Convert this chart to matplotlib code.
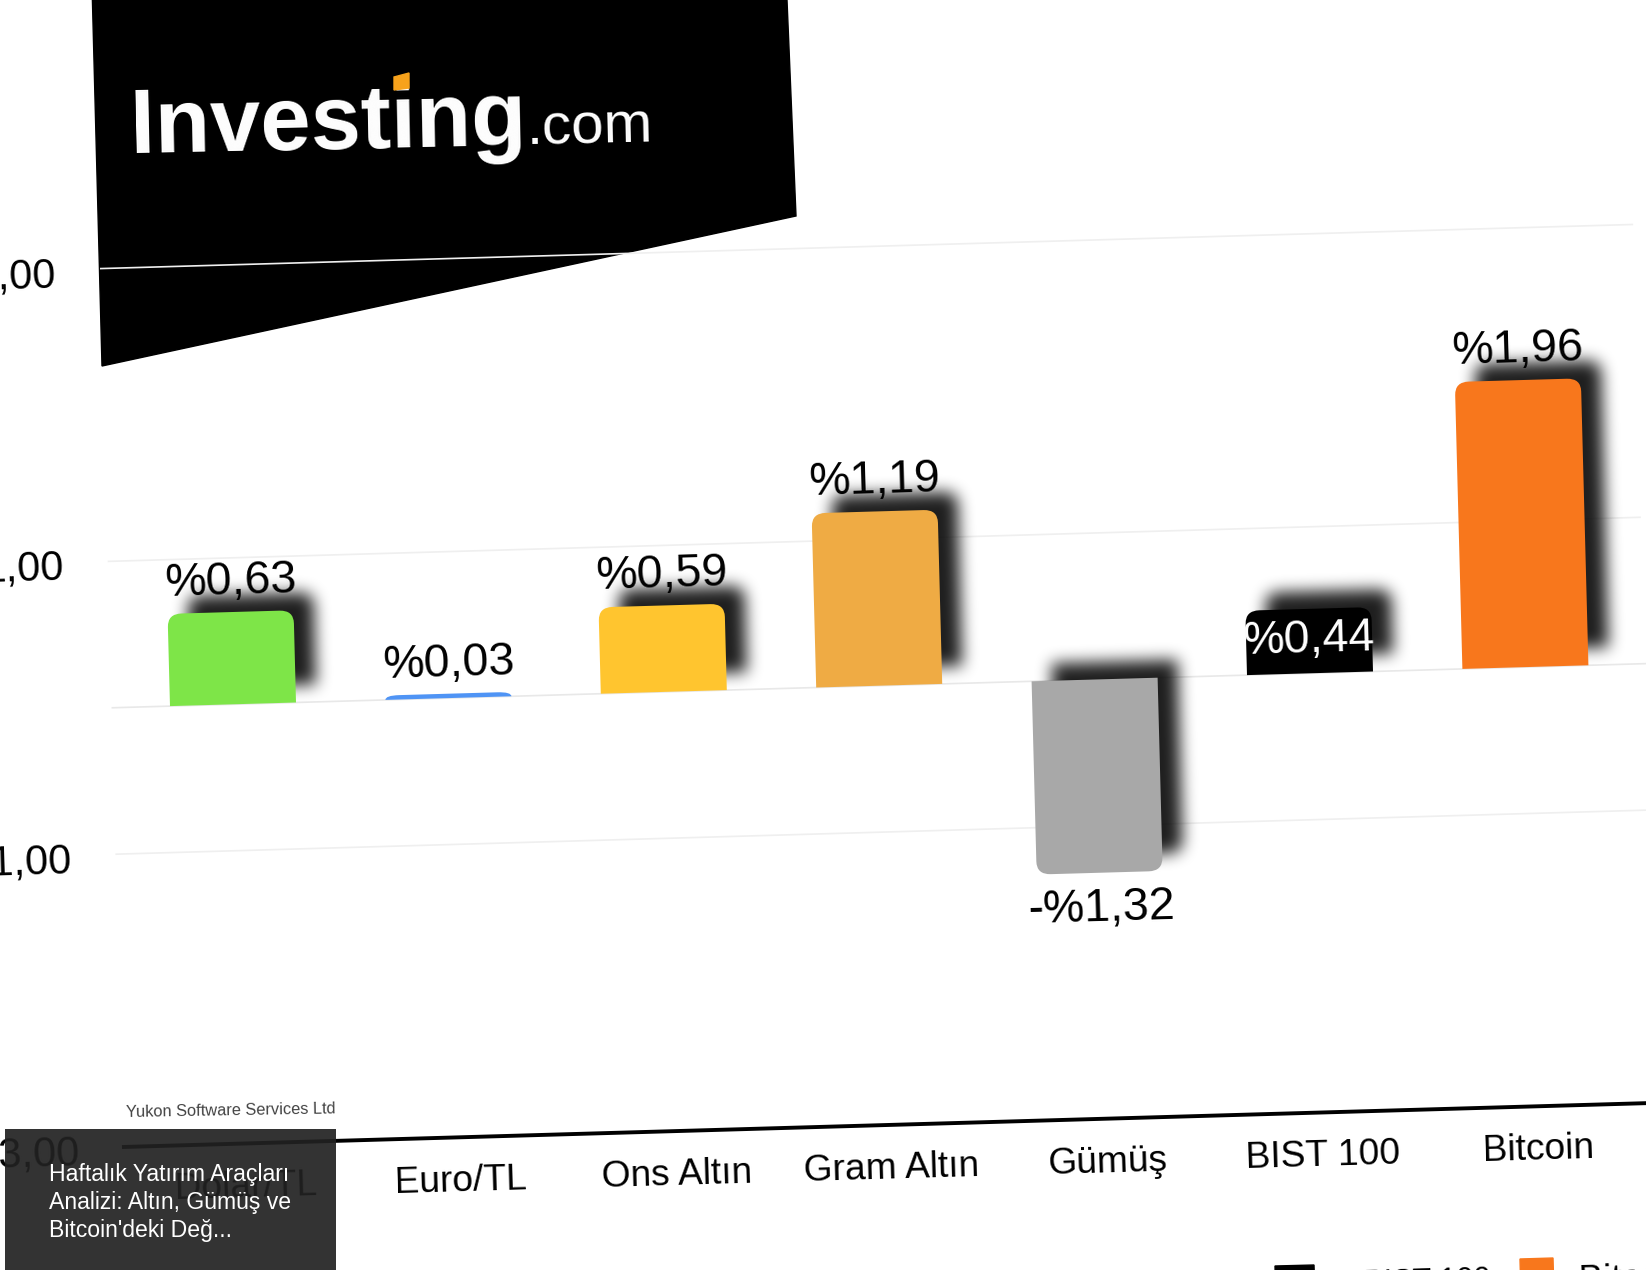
import matplotlib
matplotlib.use('Agg')
import numpy as np
import matplotlib.pyplot as plt
from matplotlib.patches import PathPatch, Polygon, Rectangle
from matplotlib.path import Path
from matplotlib.transforms import Affine2D

plt.rcParams['font.family'] = ['Liberation Sans', 'DejaVu Sans']

# Datos del grafico
categories = ['Dolar/TL', 'Euro/TL', 'Ons Altın', 'Gram Altın', 'Gümüş', 'BIST 100', 'Bitcoin']
values = [0.63, 0.03, 0.59, 1.19, -1.32, 0.44, 1.96]
bar_colors = ['#7ee548', '#4f94f5', '#ffc52f', '#efab44', '#a8a8a8', '#000000', '#f8771c']
y_ticks = [3, 1, -1, -3]
y_tick_labels = ['3,00', '1,00', '-1,00', '-3,00']
legend_names = ['BIST 100', 'Bitcoin']
overlay_lines = ['Haftalık Yatırım Araçları', 'Analizi: Altın, Gümüş ve', "Bitcoin'deki Değ..."]

fig = plt.figure(figsize=(16.46, 12.7), dpi=100)
ax = fig.add_axes([0, 0, 1, 1])
ax.set_xlim(0, 1646)
ax.set_ylim(1270, 0)
ax.axis('off')

# la foto esta torcida: (categoria, valor) -> pixeles
tilt = Affine2D.from_values(215.4, -6.2, -3.85, -146.4, 233, 704.3)
chart = tilt + ax.transData
shadow = tilt + Affine2D().translate(20, -18) + ax.transData
angle = 1.65


def bar_path(i, v, width=0.585, rx=0.065, ry=0.09):
    left, right = i - width / 2, i + width / 2
    ry = min(ry, abs(v))
    s = 1 if v > 0 else -1
    verts = [(left, 0), (left, v - s * ry), (left, v), (left + rx, v),
             (right - rx, v), (right, v), (right, v - s * ry), (right, 0), (left, 0)]
    codes = [Path.MOVETO, Path.LINETO, Path.CURVE3, Path.CURVE3,
             Path.LINETO, Path.CURVE3, Path.CURVE3, Path.LINETO, Path.CLOSEPOLY]
    return Path(verts, codes)


def blur_filter(img, dpi):
    # desenfoque de la sombra, tres pasadas de caja sobre el alfa
    pad = 40
    a = np.pad(img[:, :, 3], pad)
    k = np.ones(15) / 15
    for _ in range(3):
        a = np.apply_along_axis(lambda r: np.convolve(r, k, mode='same'), 0, a)
        a = np.apply_along_axis(lambda r: np.convolve(r, k, mode='same'), 1, a)
    out = np.zeros(a.shape + (4,))
    out[:, :, 3] = a * 0.88
    return out, -pad, -pad


# Logo
ax.add_patch(Polygon([(92.4, 0), (787, 0), (796, 216), (102, 366)], color='black', zorder=1))
ax.text(131, 153, 'Investing', color='white', fontsize=65, fontweight='bold', rotation=1.2,
        rotation_mode='anchor', ha='left', va='baseline', zorder=5)
ax.text(527, 144.5, '.com', color='white', fontsize=42, rotation=1.2,
        rotation_mode='anchor', ha='left', va='baseline', zorder=5)
ax.add_patch(Polygon([(394, 77), (409, 73), (409, 88), (394, 90)], color='#f7a21b', zorder=6))

# Grilla y eje
for t, lab in zip(y_ticks, y_tick_labels):
    if t == -3:
        ax.plot([-0.56, 7], [t, t], color='black', lw=2.8, transform=chart, zorder=2)
    else:
        ax.plot([-0.56, 6.55], [t, t], color='#efefef', lw=1.2, transform=chart, zorder=2)
    ax.text(-0.768, t - 0.04, lab, fontsize=30, color='black', ha='right', va='center',
            rotation=angle, rotation_mode='anchor', transform=chart, zorder=4)
ax.plot([-0.56, 7], [0, 0], color='#e8e8e8', lw=1.2, transform=chart, zorder=2)

# Barras con sombra
for i, (v, c) in enumerate(zip(values, bar_colors)):
    if abs(v) > 0.1:
        sh = PathPatch(bar_path(i, v), facecolor='black', edgecolor='none', transform=shadow, zorder=3)
        sh.set_agg_filter(blur_filter)
        ax.add_patch(sh)
    ax.add_patch(PathPatch(bar_path(i, v), facecolor=c, edgecolor='none', transform=chart, zorder=3.5))

    text = ('-' if v < 0 else '') + '%' + f'{abs(v):.2f}'.replace('.', ',')
    if c == '#000000':
        ax.text(i, v / 2 + 0.01, text, color='white', fontsize=33.5, ha='center', va='center',
                rotation=angle, rotation_mode='anchor', transform=chart, zorder=5)
    else:
        y = v + 0.205 if v > 0 else v - 0.245
        ax.text(i + 0.005, y, text, color='black', fontsize=33.5, ha='center', va='center',
                rotation=angle, rotation_mode='anchor', transform=chart, zorder=5)

for i, cat in enumerate(categories):
    ax.text(i, -3.3, cat, fontsize=26.7, color='black', ha='center', va='center',
            rotation=angle, rotation_mode='anchor', transform=chart, zorder=4)

ax.text(126, 1117, 'Yukon Software Services Ltd', fontsize=11.8, color='#444444', rotation=angle * 0.6,
        rotation_mode='anchor', ha='left', va='baseline', zorder=4)

# Leyenda cortada abajo
ax.add_patch(Polygon([(1275, 1266), (1314, 1265), (1315, 1300), (1276, 1301)], color=bar_colors[5], zorder=4))
ax.add_patch(Polygon([(1520, 1259), (1553, 1258), (1554, 1295), (1521, 1296)], color=bar_colors[6], zorder=4))
ax.text(1364, 1292, legend_names[0], fontsize=22, rotation=angle, rotation_mode='anchor',
        ha='left', va='baseline', zorder=4)
ax.text(1579, 1291, legend_names[1], fontsize=26.7, rotation=angle, rotation_mode='anchor',
        ha='left', va='baseline', zorder=4)

# Recuadro oscuro encima
ax.add_patch(Rectangle((5, 1129), 331, 141, facecolor='#212121', alpha=0.92, edgecolor='none', zorder=8))
for line, y in zip(overlay_lines, [1175, 1203, 1231]):
    ax.text(49, y, line, color='white', fontsize=16.6, ha='left', va='center', zorder=9)

fig.savefig('out.png', dpi=100)
